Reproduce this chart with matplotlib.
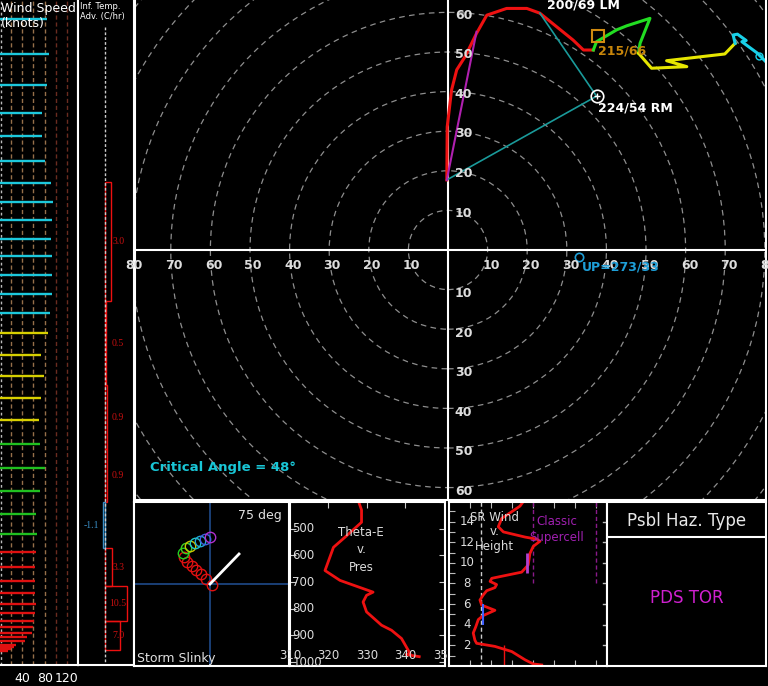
import numpy as np
import matplotlib.pyplot as plt
import matplotlib.transforms as mtransforms
from matplotlib.patches import Circle

# ---- wind speed profile (hPa, knots) ----
ws_pres = [107, 121, 135, 149, 162, 177, 191, 204, 218, 233,
           247, 264, 283, 302, 325, 351, 378, 408, 442, 481,
           523, 567, 616, 661, 704, 742, 780, 814, 846, 874,
           899, 918, 938, 951, 965, 978, 985, 992, 999]
ws_spd = [84, 88, 84, 75, 75, 81, 91, 95, 93, 91,
          93, 93, 93, 90, 86, 73, 79, 73, 70, 72,
          81, 72, 65, 66, 65, 63, 63, 63, 65, 63,
          61, 59, 57, 48, 45, 29, 25, 20, 14]

# ---- inferred temperature advection layers (hPa, C/hr) ----
ita_top = [190, 290, 390, 490, 590, 695, 795, 900]
ita_bot = [290, 390, 490, 590, 695, 795, 900, 995]
ita_val = [3.0, 0.5, 0.9, 0.9, -1.1, 3.3, 10.5, 7.0]

# ---- hodograph trace (u, v in knots) by layer ----
hodo_red_u = [-0.3, -0.2, 0.9, 2.2, 4.3, 7.2, 9.8, 14.8, 19.9, 23.2, 27.4, 31.6, 34.2, 36.7]
hodo_red_v = [17.7, 31.1, 40.4, 45.5, 48.8, 54.7, 59.3, 61.0, 61.0, 59.8, 56.4, 53.0, 50.5, 50.5]
hodo_grn_u = [36.7, 37.5, 42.6, 45.1, 51.0, 48.5, 48.1]
hodo_grn_v = [50.5, 52.6, 55.6, 56.6, 58.5, 52.2, 49.7]
hodo_yel_u = [48.1, 51.4, 60.3, 55.2, 69.9, 72.5]
hodo_yel_v = [49.7, 45.9, 46.3, 47.8, 49.5, 52.2]
hodo_cyn_u = [72.5, 72.0, 73.1, 75.3, 74.2, 78.0, 80.5]
hodo_cyn_v = [52.2, 54.3, 54.5, 52.9, 52.6, 49.8, 47.3]
inflow_top = (23.2, 59.8)
shear_top = (7.2, 55.1)

# storm motions (direction, speed)
rm_dir, rm_spd = 224, 54
lm_dir, lm_spd = 200, 69
mean_dir, mean_spd = 215, 66
up_dir, up_spd = 273, 33
crit_angle = 48

# ---- storm slinky ----
slinky_x = [1.7, -4, -9.3, -14, -18.3, -22.7, -26, -26.7, -24, -20, -15, -10, -5, 0]
slinky_y = [-1, 4.7, 10, 14, 18, 22.3, 27.3, 31.3, 35.7, 38.3, 40.7, 43.3, 45, 46.7]
slinky_col = ['#e01010'] * 7 + ['#20d020', '#40d020', '#c8c800', '#20c8c8', '#20a8d8', '#4060e0', '#b030d0']
slinky_vec = (29, 30)
slinky_deg = 75

# ---- theta-e vs pressure ----
te_pres = [405, 430, 476, 532, 570, 657, 694, 738, 750, 775, 812, 862, 881, 912, 955, 968, 972, 980]
te_theta = [328.0, 328.6, 328.6, 324.3, 321.3, 319.1, 323.0, 331.6, 329.9, 329.0,
            329.9, 333.8, 336.4, 339.0, 340.7, 341.2, 340.2, 343.6]

# ---- storm relative wind vs height ----
sr_hgt = [15.95, 15.5, 14.3, 13.5, 13.0, 12.5, 12.3, 12.1, 11.6, 10.9, 9.8, 9.1, 8.7, 8.5, 8.2,
          7.9, 7.6, 7.3, 6.9, 6.4, 5.9, 5.4, 4.9, 4.5, 3.8, 3.2, 2.5, 2.2, 1.9, 1.4, 0.6, 0.2, 0.1]
sr_spd = [35.3, 33.7, 25.0, 23.4, 25.8, 36.1, 41.6, 43.2, 40.0, 38.4, 37.6, 34.5, 25.0, 20.3, 19.5,
          22.6, 21.8, 17.9, 16.3, 14.7, 15.5, 21.8, 16.3, 13.9, 12.7, 11.5, 12.3, 13.1, 21.8, 29.8,
          36.1, 40.0, 44.0]
sr_mean_0_2 = 26.2
sr_mean_4_6 = 16.3
sr_mean_9_11 = 37.2

W, H = 768, 686
fig = plt.figure(figsize=(W / 100, H / 100), dpi=100, facecolor='black')


def add_px_axes(x0, y0, x1, y1):
    ax = fig.add_axes([x0 / W, 1 - y1 / H, (x1 - x0) / W, (y1 - y0) / H])
    ax.set_facecolor('black')
    for s in ax.spines.values():
        s.set_color('white')
        s.set_linewidth(1.5)
    ax.tick_params(which='both', left=False, bottom=False, labelleft=False, labelbottom=False)
    return ax


def uv(wdir, wspd):
    r = np.radians(wdir)
    return -wspd * np.sin(r), -wspd * np.cos(r)


# wind speed panel
ax = add_px_axes(0, 0, 78, 665)
ax.set_yscale('log')
ax.set_ylim(1050, 100)
ax.set_xlim(0, 139.8)
ax.spines['top'].set_visible(False)
ax.spines['left'].set_visible(False)
ax.yaxis.set_minor_locator(plt.NullLocator())
ax.yaxis.set_major_locator(plt.NullLocator())
for k in range(20, 140, 20):
    ax.axvline(k, color='#96704a' if k <= 80 else '#6a2c20', ls=(0, (3, 2)), lw=1)
ax.axvline(1.5, color='#bbbbbb', ls=(0, (2, 2)), lw=1)
cols = []
for p in ws_pres:
    if p < 315:
        cols.append('#1cc8dc')
    elif p < 460:
        cols.append('#d8d000')
    elif p < 680:
        cols.append('#20c020')
    else:
        cols.append('#e01010')
ax.hlines(ws_pres, 0, ws_spd, colors=cols, lw=1.7)
ax.set_xticks([40, 80, 120])
ax.set_xticklabels(['40', '80', '120'])
ax.tick_params(axis='x', labelbottom=True, length=0, labelcolor='white', labelsize=9, pad=5)
fig.text(1 / W, 1 - 2 / H, 'Wind Speed\n(knots)', ha='left', va='top', fontsize=9,
         color='white', linespacing=1.15)

# inferred temperature advection panel
ax = add_px_axes(78, 0, 134, 665)
ax.set_yscale('log')
ax.set_ylim(1050, 100)
ax.set_xlim(-12.86, 13.8)
ax.spines['top'].set_visible(False)
ax.yaxis.set_minor_locator(plt.NullLocator())
ax.yaxis.set_major_locator(plt.NullLocator())
ax.vlines(0, 110, 1050, colors='#cccccc', linestyles=(0, (2, 1.5)), lw=1)
for top, bot, val in zip(ita_top, ita_bot, ita_val):
    c = '#ee1010' if val > 0 else '#3a90c8'
    ax.barh(top, val, height=bot - top, left=0, align='edge', fill=False, edgecolor=c, lw=1)
    xt = 6.3 if val > 0 else -6.7
    ax.text(xt, np.sqrt(top * bot), f'{val:.1f}', color='#c81010' if val > 0 else '#3a90c8',
            fontsize=7, family='Liberation Serif', ha='center', va='center')
fig.text(80 / W, 1 - 2 / H, 'Inf. Temp.\nAdv. (C/hr)', ha='left', va='top', fontsize=6,
         color='white', linespacing=1.1)

# hodograph
ax = add_px_axes(135, 0, 766, 500)
ax.set_xlim(-79.04, 80.30)
ax.set_ylim(-63.13, 63.13)
ax.spines['top'].set_visible(False)
for r in range(10, 130, 10):
    ax.add_patch(Circle((0, 0), r, fill=False, ec='#8e8e8e', lw=0.9, ls=(0, (4.5, 3.5))))
ax.axhline(0, color='white', lw=1.5)
ax.axvline(0, color='white', lw=1.5)
lab = dict(color='#dddddd', fontsize=9, fontweight='bold', ha='center', va='center')
for r in range(10, 90, 10):
    ax.text(r + 1.0, -4.0, str(r), **lab)
    ax.text(-r + 0.8, -4.0, str(r), **lab)
for r in range(10, 70, 10):
    ax.text(3.9, r - 0.7, str(r), **lab)
    ax.text(3.9, -r - 1.0, str(r), **lab)

ax.plot(hodo_red_u, hodo_red_v, color='#ee1111', lw=2.2, solid_joinstyle='round')
ax.plot(hodo_grn_u, hodo_grn_v, color='#22dd22', lw=2.2)
ax.plot(hodo_yel_u, hodo_yel_v, color='#e6e600', lw=2.2)
ax.plot(hodo_cyn_u, hodo_cyn_v, color='#19d0e8', lw=2.2)
ax.plot(78.5, 49.0, 'o', mfc='none', mec='#19d0e8', ms=5)

rm_u, rm_v = uv(rm_dir, rm_spd)
sfc = (hodo_red_u[0], hodo_red_v[0])
ax.plot([sfc[0], rm_u, inflow_top[0]], [sfc[1], rm_v, inflow_top[1]], color='#1a9a9a', lw=1.2)
ax.plot([sfc[0], shear_top[0]], [sfc[1], shear_top[1]], color='#b020b0', lw=1.5)
ax.plot(rm_u, rm_v, 'o', mfc='none', mec='white', ms=9, mew=1.2)
ax.plot(rm_u, rm_v, '+', color='white', ms=5, mew=1)
ax.annotate(f'{rm_dir}/{rm_spd} RM', (rm_u, rm_v), xytext=(0.7, -8.6), textcoords='offset points',
            color='white', fontsize=9, fontweight='bold', ha='left', va='center')

lm_u, lm_v = uv(lm_dir, lm_spd)
ax.annotate(f'{lm_dir}/{lm_spd} LM', (lm_u, lm_v), xytext=(4, -8.4), textcoords='offset points',
            color='white', fontsize=9, fontweight='bold', ha='left', va='center',
            annotation_clip=False)

mn_u, mn_v = uv(mean_dir, mean_spd)
ax.plot(mn_u, mn_v, 's', mfc='none', mec='#d08a10', ms=8, mew=1.5)
ax.annotate(f'{mean_dir}/{mean_spd}', (mn_u, mn_v), xytext=(0, -11), textcoords='offset points',
            color='#c8860b', fontsize=9, fontweight='bold', ha='left', va='center')

up_u, up_v = uv(up_dir, up_spd)
ax.plot(up_u, up_v, 'o', mfc='none', mec='#1e9fd8', ms=6, mew=1.2)
ax.annotate(f'UP={up_dir}/{up_spd}', (up_u, up_v), xytext=(2.5, -7.2), textcoords='offset points',
            color='#1e9fd8', fontsize=9, fontweight='bold', ha='left', va='center')

ax.text(-75.3, -54.8, f'Critical Angle = {crit_angle}\u00b0', color='#19c6d6', fontsize=9.5,
        fontweight='bold', ha='left', va='center')

# storm slinky
ax = add_px_axes(134, 502, 289, 666)
ax.set_xlim(-76, 79)
ax.set_ylim(-82, 82)
ax.axhline(0, color='#1f4a8a', lw=1.2)
ax.axvline(0, color='#1f4a8a', lw=1.2)
for x, y, c in zip(slinky_x, slinky_y, slinky_col):
    ax.plot(x, y, 'o', mfc='none', mec=c, ms=7.5, mew=1)
ax.plot([0, slinky_vec[0]], [0, slinky_vec[1]], color='white', lw=2)
ax.text(0.955, 0.92, f'{slinky_deg} deg', transform=ax.transAxes, color='#e0e0e0',
        fontsize=9, ha='right', va='center')
ax.text(0.02, 0.045, 'Storm Slinky', transform=ax.transAxes, color='#e0e0e0',
        fontsize=9, ha='left', va='center')

# theta-e vs pressure
ax = add_px_axes(290, 502, 445, 666)
ax.set_xlim(310, 350.3)
ax.set_ylim(1015, 403)
ax.set_yticks(range(400, 1001, 100))
ax.set_xticks([320, 330, 340])
ax.tick_params(which='both', direction='in', length=4, color='#cccccc',
               left=True, right=True, top=True, bottom=False)
bt = mtransforms.blended_transform_factory(ax.transAxes, ax.transData)
for p in range(500, 1001, 100):
    ax.text(0.015, p, str(p), transform=bt, color='#dddddd', fontsize=8.5, ha='left', va='center')
bt2 = mtransforms.blended_transform_factory(ax.transData, ax.transAxes)
for t in range(310, 351, 10):
    ax.text(t, 0.065, str(t), transform=bt2, color='#dddddd', fontsize=8.5, ha='center', va='center')
ax.text(0.46, 0.71, 'Theta-E\nv.\nPres', transform=ax.transAxes, color='#dddddd', fontsize=8.5,
        ha='center', va='center', linespacing=1.45)
ax.plot(te_theta, te_pres, color='#ee1111', lw=2)

# storm relative winds vs height
ax = add_px_axes(449, 502, 607, 666)
ax.set_xlim(0, 75)
ax.set_ylim(0, 15.9)
ax.set_yticks(range(1, 16))
ax.set_xticks(range(10, 71, 10))
ax.tick_params(which='both', direction='in', length=4, color='#bbbbbb',
               left=True, right=False, top=True, bottom=True)
bt = mtransforms.blended_transform_factory(ax.transAxes, ax.transData)
for h in range(2, 15, 2):
    ax.text(0.114, h, str(h), transform=bt, color='#dddddd', fontsize=8.5, ha='center', va='center')
    ax.plot([0.975, 1.0], [h, h], transform=bt, color='#bbbbbb', lw=1)
ax.axvline(15, color='#cccccc', ls=(0, (3, 2)), lw=1)
ax.vlines([40, 70], 8, 16, colors='#8a1a8a', linestyles=(0, (3, 2)), lw=1)
ax.plot(sr_spd, sr_hgt, color='#ee1111', lw=2)
ax.vlines(sr_mean_0_2, 0, 2, colors='#ee1111', lw=1)
ax.vlines(sr_mean_4_6, 4, 6, colors='#4060ff', lw=1.5)
ax.vlines(sr_mean_9_11, 9, 11, colors='#b040d0', lw=2)
ax.text(0.29, 0.82, 'SR Wind\nv.\nHeight', transform=ax.transAxes, color='#dddddd', fontsize=8.5,
        ha='center', va='center', linespacing=1.15)
ax.text(0.68, 0.83, 'Classic\nSupercell', transform=ax.transAxes, color='#a020b0', fontsize=8.5,
        ha='center', va='center', linespacing=1.3)

# possible hazard type
ax = add_px_axes(607, 502, 766, 666)
ax.set_xlim(0, 1)
ax.set_ylim(0, 1)
ax.axhline(0.787, color='white', lw=1.5)
ax.text(0.5, 0.885, 'Psbl Haz. Type', color='#e8e8e8', fontsize=12, ha='center', va='center')
ax.text(0.5, 0.415, 'PDS TOR', color='#d020d0', fontsize=12, ha='center', va='center')

fig.savefig('out.png', dpi=100, facecolor='black')
